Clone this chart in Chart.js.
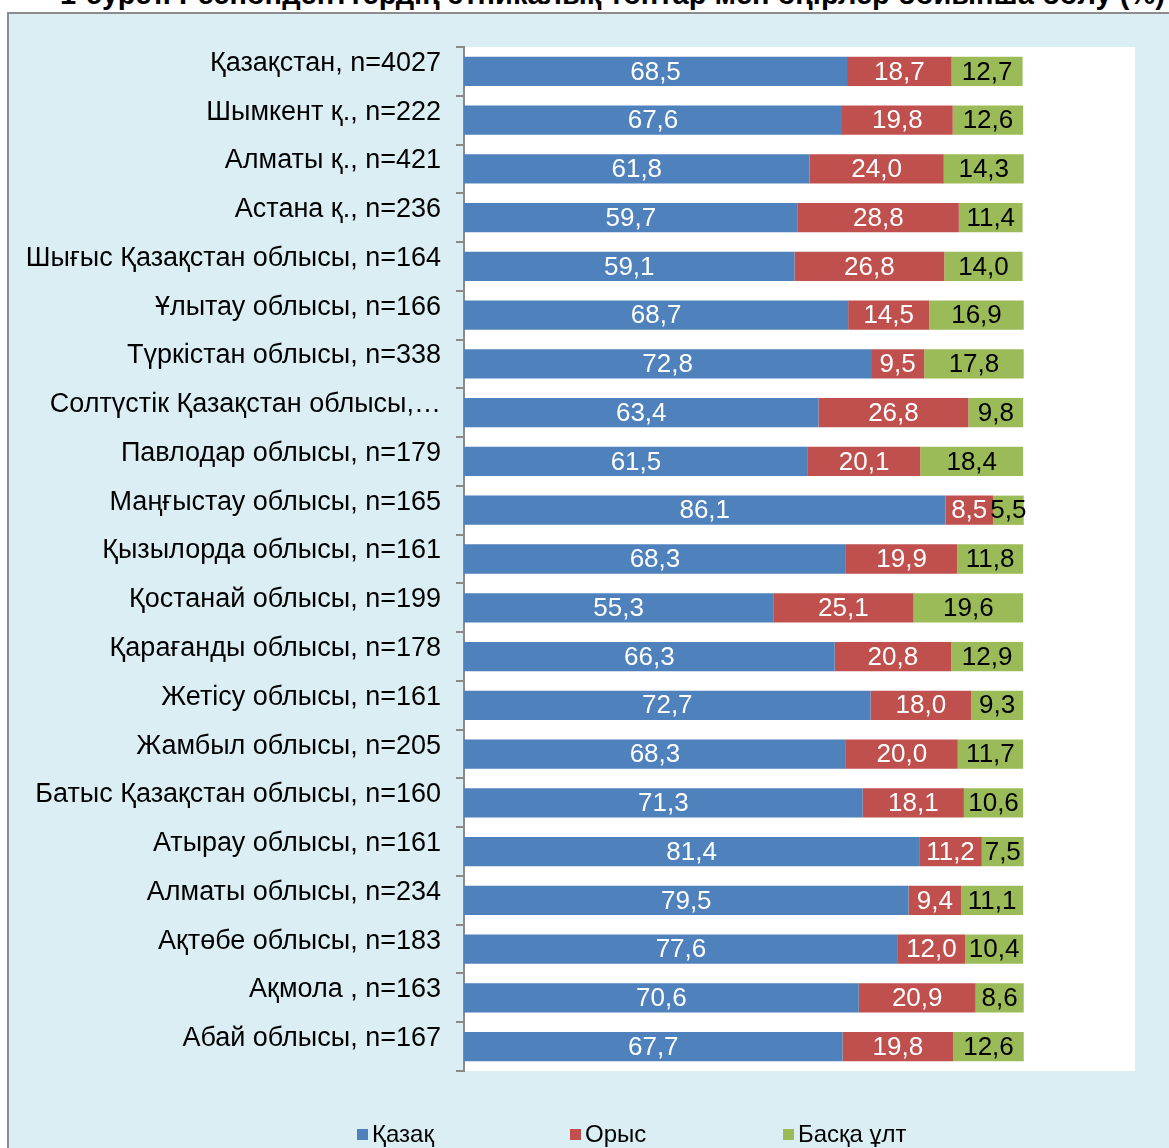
<!DOCTYPE html>
<html>
<head>
<meta charset="utf-8">
<script src="https://cdn.jsdelivr.net/npm/chart.js@4.4.0/dist/chart.umd.min.js"></script>
<style>
  body { margin: 0; background: #fff; width: 1169px; height: 1148px; overflow: hidden; position: relative; font-family: "Liberation Sans", Arial, sans-serif; }
  #title { position: absolute; left: 60px; top: -22px; font-weight: bold; font-size: 29px; white-space: nowrap; color: #000; z-index: 0; }
  #box { position: absolute; left: 7px; top: 12px; width: 1162px; height: 1136px; border-left: 2px solid #8c8c8c; border-top: 2px solid #8c8c8c; background: #dbeef4; z-index: 1; }
  #wrap { position: absolute; left: 0; top: 0; width: 1160px; height: 1134px; }
  #legend { position: absolute; top: 1106px; left: 0; width: 1160px; height: 28px; font-size: 24px; color: #000; z-index: 2; }
  .item { position: absolute; top: 0; display: flex; align-items: center; }
  .sw { width: 11px; height: 11px; margin-right: 4px; }
</style>
</head>
<body>
<div id="title">1-сурет. Респонденттердің этникалық топтар мен өңірлер бойынша бөлу (%)</div>
<div id="box">
  <div id="wrap"><canvas id="myBarChart"></canvas></div>
  <div id="legend"></div>
</div>
<script>
var regions = ['Қазақстан, n=4027','Шымкент қ., n=222','Алматы қ., n=421','Астана қ., n=236',
  'Шығыс Қазақстан облысы, n=164','Ұлытау облысы, n=166','Түркістан облысы, n=338',
  'Солтүстік Қазақстан облысы,…','Павлодар облысы, n=179','Маңғыстау облысы, n=165',
  'Қызылорда облысы, n=161','Қостанай облысы, n=199','Қарағанды облысы, n=178',
  'Жетісу облысы, n=161','Жамбыл облысы, n=205','Батыс Қазақстан облысы, n=160',
  'Атырау облысы, n=161','Алматы облысы, n=234','Ақтөбе облысы, n=183',
  'Ақмола , n=163','Абай облысы, n=167'];
var kazakh = [68.5,67.6,61.8,59.7,59.1,68.7,72.8,63.4,61.5,86.1,68.3,55.3,66.3,72.7,68.3,71.3,81.4,79.5,77.6,70.6,67.7];
var russian = [18.7,19.8,24.0,28.8,26.8,14.5,9.5,26.8,20.1,8.5,19.9,25.1,20.8,18.0,20.0,18.1,11.2,9.4,12.0,20.9,19.8];
var other = [12.7,12.6,14.3,11.4,14.0,16.9,17.8,9.8,18.4,5.5,11.8,19.6,12.9,9.3,11.7,10.6,7.5,11.1,10.4,8.6,12.6];
var seriesNames = ['Қазақ','Орыс','Басқа ұлт'];
var colors = ['#4f81bd','#c0504d','#9bbb59'];
var labelColors = ['#fff','#fff','#000'];

// white plot area
var plotBg = {
    id: 'plotBg',
    beforeDraw: function(chart){
        let a = chart.chartArea;
        chart.ctx.save();
        chart.ctx.fillStyle = '#fff';
        chart.ctx.fillRect(a.left, a.top, a.right - a.left, a.bottom - a.top);
        chart.ctx.restore();
    }
};

// values inside the bars
var barValues = {
    id: 'barValues',
    afterDatasetsDraw: function(chart){
        let ctx = chart.ctx;
        ctx.save();
        ctx.font = '26px "Liberation Sans", Arial, sans-serif';
        ctx.textAlign = 'center';
        ctx.textBaseline = 'middle';
        chart.data.datasets.forEach(function(ds, i){
            chart.getDatasetMeta(i).data.forEach(function(bar, j){
                ctx.fillStyle = labelColors[i];
                ctx.fillText(ds.data[j].toFixed(1).replace('.', ','), (bar.x + bar.base) / 2, bar.y + 1);
            });
        });
        ctx.restore();
    }
};

var ctx = document.getElementById("myBarChart");
var myBarChart = new Chart(ctx, {
    type: 'bar',
    data: {
        labels: regions,
        datasets: [kazakh, russian, other].map(function(d, i){
            return {
                label: seriesNames[i],
                data: d,
                backgroundColor: colors[i],
                borderWidth: 0,
                barPercentage: 0.6,
                categoryPercentage: 1
            };
        })
    },
    options: {
        indexAxis: 'y',
        responsive: true,
        maintainAspectRatio: false,
        animation: false,
        layout: { padding: { left: 0, top: 33, right: 34, bottom: 77 } },
        plugins: {
            legend: { display: false },
            tooltip: { enabled: false }
        },
        scales: {
            x: { stacked: true, min: 0, max: 120, display: false },
            y: {
                stacked: true,
                afterFit: function(s){ s.width = 455; },
                border: { display: true, color: '#8a8a8a', width: 2 },
                grid: { drawOnChartArea: false, tickLength: 8, color: '#8a8a8a', lineWidth: 2 },
                ticks: {
                    color: '#000',
                    padding: 15,
                    labelOffset: -8,
                    autoSkip: false,
                    font: { family: '"Liberation Sans", Arial, sans-serif', size: 27 }
                }
            }
        }
    },
    plugins: [plotBg, barValues]
});

// legend
var legendPos = [348, 561, 774];
var lg = document.getElementById('legend');
seriesNames.forEach(function(n, i){
    let it = document.createElement('div');
    it.className = 'item';
    it.style.left = legendPos[i] + 'px';
    it.innerHTML = '<span class="sw" style="background:' + colors[i] + '"></span><span>' + n + '</span>';
    lg.appendChild(it);
});
</script>
</body>
</html>
